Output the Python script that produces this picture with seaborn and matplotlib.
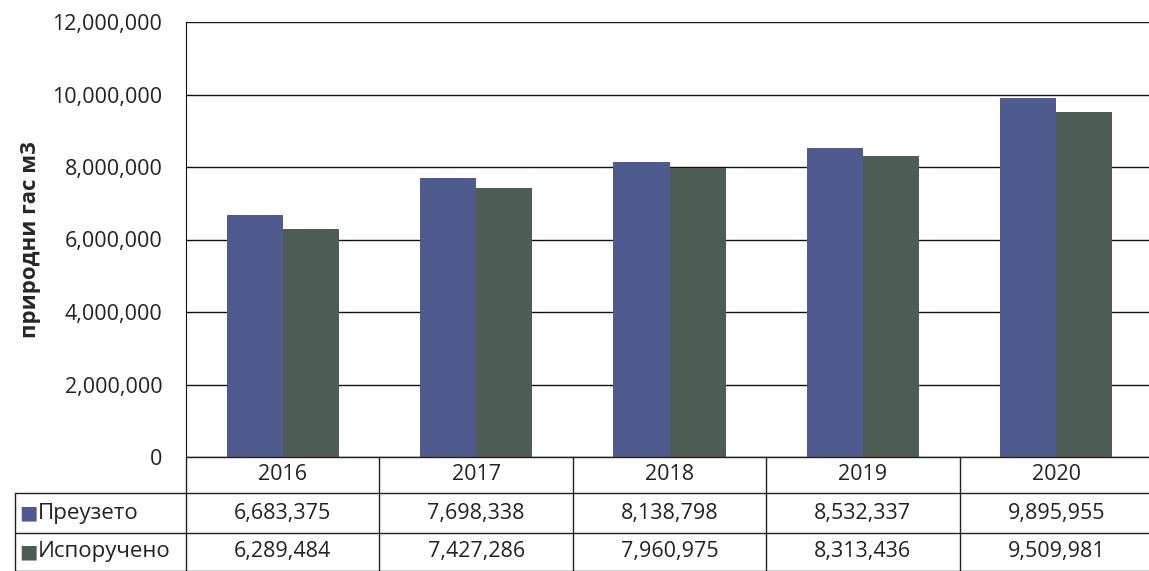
import pandas as pd
import seaborn as sns
import matplotlib.pyplot as plt
from matplotlib.ticker import FuncFormatter

godine = ["2016", "2017", "2018", "2019", "2020"]
preuzeto = [6683375, 7698338, 8138798, 8532337, 9895955]
isporuceno = [6289484, 7427286, 7960975, 8313436, 9509981]
serije = ["Преузето", "Испоручено"]
boje = ["#4f5a8e", "#4d5d55"]

df = pd.DataFrame({
    "godina": godine * 2,
    "serija": [serije[0]] * len(godine) + [serije[1]] * len(godine),
    "vrednost": preuzeto + isporuceno,
})

sns.set_style("white")
plt.rcParams["font.family"] = ["Open Sans", "DejaVu Sans"]

fig = plt.figure(figsize=(11.49, 5.71), dpi=100)
ax = fig.add_axes([186 / 1149, 1 - 457 / 571, 967 / 1149, 435 / 571])

sns.barplot(data=df, x="godina", y="vrednost", hue="serija", palette=boje,
            width=0.58, saturation=1, linewidth=0, ax=ax, legend=False)

ax.set_ylim(0, 12000000)
ax.set_xlim(-0.5, 4.5)
ax.set_yticks(range(0, 12000001, 2000000))
ax.yaxis.set_major_formatter(FuncFormatter(lambda v, p: f"{int(v):,}"))
ax.tick_params(axis="y", labelsize=15.5, length=0, pad=17, colors="#222222")
ax.set_xticks([])
ax.set_xlabel("")
ax.set_ylabel("природни гас м3", fontsize=16, fontweight="bold", labelpad=8)
ax.grid(axis="y", color="#111111", linewidth=1)
ax.set_axisbelow(True)
for s in ["top", "right", "bottom"]:
    ax.spines[s].set_visible(False)
ax.spines["left"].set_color("#111111")

# tabela sa podacima ispod grafikona
trans = ax.get_xaxis_transform()
redovi = [0, -36 / 435, -76 / 435, -114 / 435]
lk = dict(color="#222222", linewidth=1, clip_on=False, transform=trans)
leva = -0.5 - 171 / 193.4

ax.plot([-0.5, 4.5], [redovi[0]] * 2, **lk)
for y in redovi[1:]:
    ax.plot([leva, 4.5], [y, y], **lk)
ax.plot([-0.5, -0.5], [redovi[0], redovi[3]], **lk)
ax.plot([leva, leva], [redovi[1], redovi[3]], **lk)
for i in range(1, 5):
    ax.plot([i - 0.5, i - 0.5], [redovi[0], redovi[3]], **lk)

for i, g in enumerate(godine):
    ax.text(i, (redovi[0] + redovi[1]) / 2, g, ha="center", va="center",
            fontsize=15.5, transform=trans, color="#222222")
    ax.text(i, (redovi[1] + redovi[2]) / 2, f"{preuzeto[i]:,}", ha="center",
            va="center", fontsize=15.5, transform=trans, color="#222222")
    ax.text(i, (redovi[2] + redovi[3]) / 2, f"{isporuceno[i]:,}", ha="center",
            va="center", fontsize=15.5, transform=trans, color="#222222")

for k, naziv in enumerate(serije):
    yc = (redovi[k + 1] + redovi[k + 2]) / 2
    ax.text(leva + 0.02, yc, "■", color=boje[k], ha="left", va="center",
            fontsize=14, transform=trans, family=["DejaVu Sans"])
    ax.text(leva + 0.12, yc, naziv, ha="left", va="center", fontsize=16,
            transform=trans, color="#222222")

fig.savefig("out.png", dpi=100)
